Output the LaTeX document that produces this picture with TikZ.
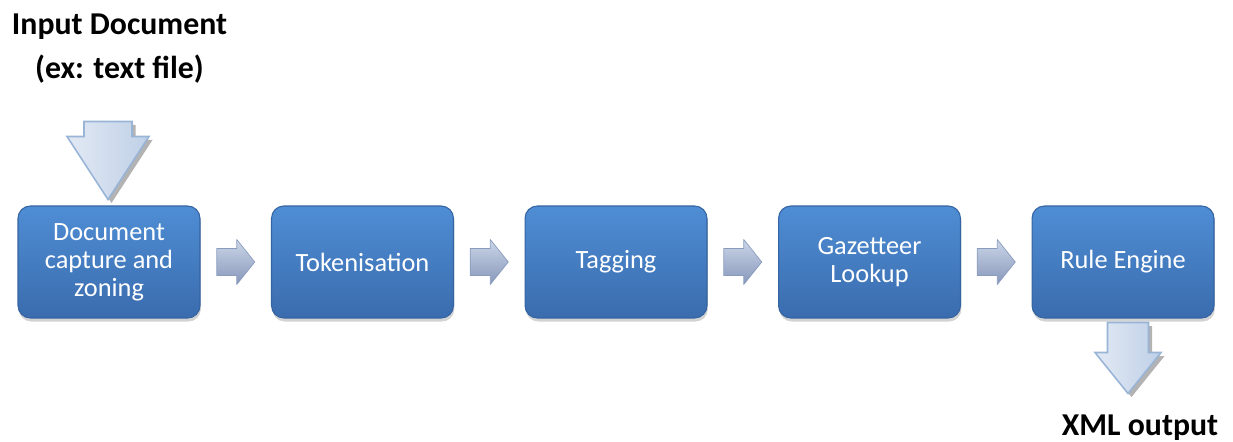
\documentclass[tikz,border=0pt]{standalone}
\usepackage{fontspec}
\setmainfont{Carlito}
\usetikzlibrary{positioning,calc,shadows}

\definecolor{boxtop}{HTML}{4F8DD4}
\definecolor{boxbot}{HTML}{3A6CAE}
\definecolor{boxedge}{HTML}{3564A2}
\definecolor{smalltop}{HTML}{CBD6E8}
\definecolor{smallbot}{HTML}{8797BA}
\definecolor{smalledge}{HTML}{8A9CBE}
\definecolor{bigleft}{HTML}{E2E9F4}
\definecolor{bigright}{HTML}{BFD0E7}
\definecolor{bigedge}{HTML}{98B4D7}

\tikzset{
  stagebox/.style={draw=boxedge, line width=0.6pt, rounded corners=7pt,
    top color=boxtop, bottom color=boxbot, text=white, align=center,
    minimum width=3.64cm, minimum height=2.24cm, inner sep=2pt,
    font=\fontsize{15}{16}\selectfont,
    drop shadow={shadow xshift=0.5pt, shadow yshift=-2pt, opacity=.35}},
  smallline/.style={draw=smalledge, line width=0.4pt, line join=round,
    top color=smalltop, bottom color=smallbot},
  bigline/.style={draw=bigedge, line width=0.9pt, line join=miter,
    left color=bigleft, right color=bigright,
    drop shadow={shadow xshift=2pt, shadow yshift=-2pt, fill=gray, opacity=.6}},
  pics/steparrow/.style={code={
    \draw[smallline] (-19,-13.5) -- (1,-13.5) -- (1,-22.5) -- (19,0)
      -- (1,22.5) -- (1,13.5) -- (-19,13.5) -- cycle;}},
  % args: shaft half width, head half width, length, head length
  pics/downarrow/.style n args={4}{code={
    \draw[bigline] (-#1,-#3) -- (#1,-#3) -- (#1,-#4) -- (#2,-#4) -- (0,0)
      -- (-#2,-#4) -- (-#1,-#4) -- cycle;}},
  titletext/.style={font=\bfseries\fontsize{18.1}{20}\selectfont, anchor=base}
}

\begin{document}
\begin{tikzpicture}[x=0.02cm, y=-0.02cm]
  \useasboundingbox (0,0) rectangle (1233,442);

  % pipeline stages
  \node[stagebox] (capture) at (109,262) {Document\\capture and\\zoning};
  \node[stagebox, right=1.41cm of capture] (token) {Tokenisation};
  \node[stagebox, right=1.41cm of token] (tagging) {Tagging};
  \node[stagebox, right=1.41cm of tagging] (gazetteer) {Gazetteer\\Lookup};
  \node[stagebox, right=1.41cm of gazetteer] (rules) {Rule Engine};

  % arrows between stages
  \pic at ($(capture.east)!.5!(token.west)$) {steparrow};
  \pic at ($(token.east)!.5!(tagging.west)$) {steparrow};
  \pic at ($(tagging.east)!.5!(gazetteer.west)$) {steparrow};
  \pic at ($(gazetteer.east)!.5!(rules.west)$) {steparrow};

  % input and output
  \node[titletext] (intitle) at (119.5,35) {Input Document};
  \node[titletext] (insub) at (119.5,79) {(ex: text file)};
  \pic at ($(capture.north)+(-1,-6)$) {downarrow={24}{41}{78}{63}};

  \pic at ($(rules.south)+(5,75)$) {downarrow={20.5}{33}{71}{41}};
  \node[titletext] (outtitle) at (1140,435) {XML output};
\end{tikzpicture}
\end{document}
